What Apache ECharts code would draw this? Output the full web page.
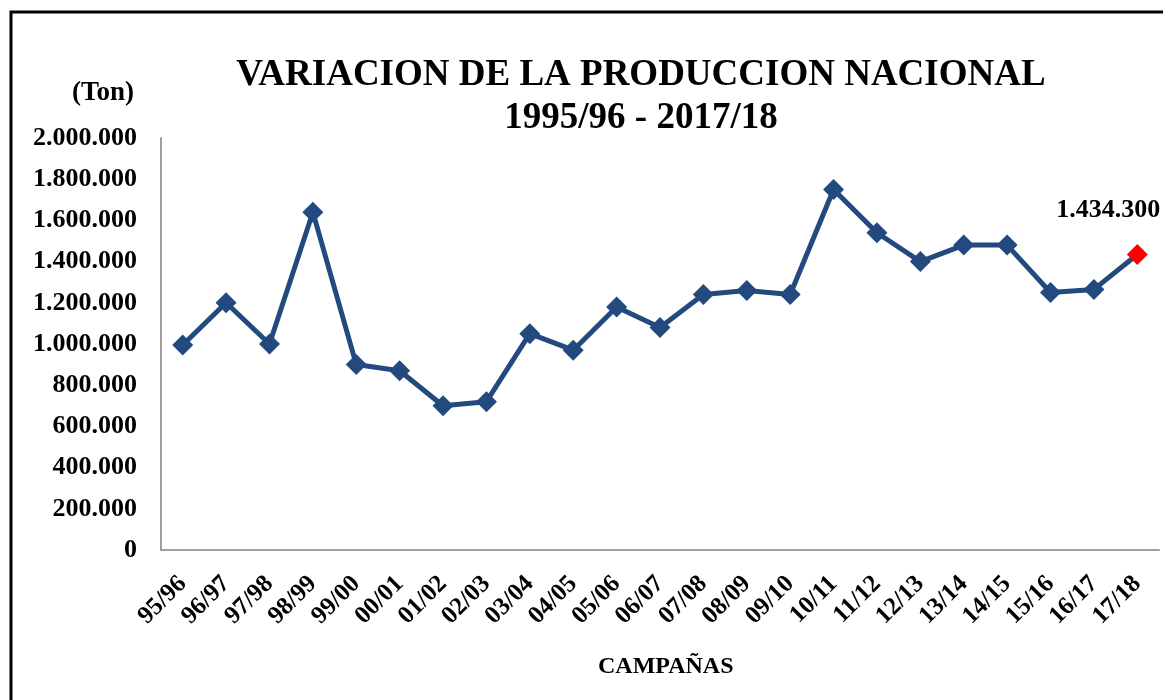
<!DOCTYPE html>
<html>
<head>
<meta charset="utf-8">
<script src="https://cdn.jsdelivr.net/npm/echarts@6/dist/echarts.min.js"></script>
<style>
  html, body { margin: 0; padding: 0; background: #fff; }
  #chart { width: 1163px; height: 700px; }
</style>
</head>
<body>
<div id="chart"></div>
<script>
const campaigns = ['95/96', '96/97', '97/98', '98/99', '99/00', '00/01', '01/02', '02/03',
  '03/04', '04/05', '05/06', '06/07', '07/08', '08/09', '09/10', '10/11', '11/12',
  '12/13', '13/14', '14/15', '15/16', '16/17', '17/18']
const production = [995000, 1200000, 1000000, 1640000, 900000, 870000, 700000, 720000,
  1050000, 970000, 1180000, 1080000, 1240000, 1260000, 1240000, 1750000, 1540000,
  1400000, 1480000, 1480000, 1250000, 1265000, 1434300]
const yTicks = { min: 0, max: 2000000, interval: 200000 }

const serif = '"Liberation Serif", "Times New Roman", serif'
const lineColor = '#224A7E'

// miles con punto: 1434300 -> 1.434.300
const fmt = (v) => String(Math.round(v)).replace(/\B(?=(\d{3})+(?!\d))/g, '.')

const chart = echarts.init(document.getElementById('chart'))

const lastIdx = production.length - 1
const seriesData = production.map((v, i) => {
  if (i !== lastIdx) return v
  return {
    value: v,
    itemStyle: { color: '#FF0000' },
    label: {
      show: true,
      position: 'top',
      offset: [-29, -16],
      formatter: (p) => fmt(p.value),
      fontFamily: serif,
      fontWeight: 'bold',
      fontSize: 26,
      color: '#000'
    }
  }
})

const option = {
  backgroundColor: '#fff',
  animation: false,
  title: {
    text: 'VARIACION DE LA PRODUCCION NACIONAL\n1995/96 - 2017/18',
    left: 636,
    top: 49,
    textAlign: 'center',
    textStyle: {
      fontFamily: serif,
      fontWeight: 'bold',
      fontSize: 37,
      lineHeight: 43,
      color: '#000'
    }
  },
  graphic: [
    {
      type: 'rect',
      shape: { x: 11, y: 12, width: 1300, height: 900 },
      style: { fill: 'none', stroke: '#000', lineWidth: 3 },
      silent: true
    },
    {
      type: 'text',
      left: 72,
      top: 80,
      style: {
        text: '(Ton)',
        font: 'bold 27px ' + serif,
        fill: '#000'
      }
    },
    {
      type: 'text',
      left: 598,
      top: 655,
      style: {
        text: 'CAMPAÑAS',
        font: 'bold 24px ' + serif,
        fill: '#000'
      }
    }
  ],
  grid: {
    left: 161,
    right: 4,
    top: 138,
    bottom: 150,
    containLabel: false
  },
  xAxis: {
    type: 'category',
    data: campaigns,
    boundaryGap: true,
    axisLine: { show: true, lineStyle: { color: '#A0A0A0', width: 2 } },
    axisTick: { show: false },
    axisLabel: {
      rotate: 45,
      interval: 0,
      margin: 30,
      fontFamily: serif,
      fontWeight: 'bold',
      fontSize: 25,
      color: '#000'
    }
  },
  yAxis: {
    type: 'value',
    min: yTicks.min,
    max: yTicks.max,
    interval: yTicks.interval,
    axisLine: { show: true, lineStyle: { color: '#A0A0A0', width: 2 } },
    axisTick: { show: false },
    splitLine: { show: false },
    axisLabel: {
      margin: 24,
      formatter: fmt,
      fontFamily: serif,
      fontWeight: 'bold',
      fontSize: 26,
      color: '#000'
    }
  },
  series: [
    {
      name: 'Producción',
      type: 'line',
      data: seriesData,
      symbol: 'diamond',
      symbolSize: 21,
      lineStyle: { color: lineColor, width: 5 },
      itemStyle: { color: lineColor }
    }
  ]
}

chart.setOption(option)
</script>
</body>
</html>
